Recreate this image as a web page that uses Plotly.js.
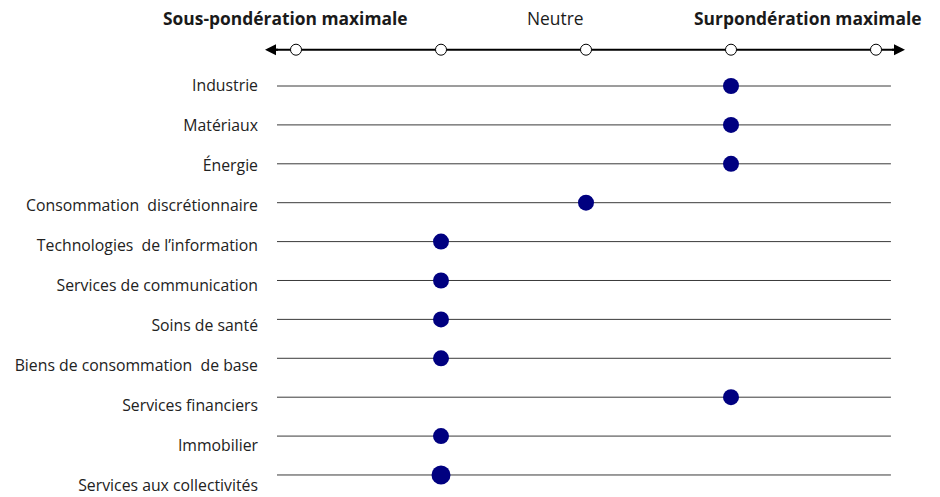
<!DOCTYPE html>
<html>
<head>
<meta charset="utf-8">
<script src="https://cdn.plot.ly/plotly-3.0.1.min.js"></script>
<style>
  html, body { margin: 0; padding: 0; background: #fff; }
  #chart { width: 940px; height: 497px; }
</style>
</head>
<body>
<div id="chart"></div>
<script>
// Sector positioning on a five-step scale (-2 = max underweight, +2 = max overweight)
const sectors = [
  "Industrie",
  "Matériaux",
  "Énergie",
  "Consommation\u00a0 discrétionnaire",
  "Technologies\u00a0 de l’information",
  "Services de communication",
  "Soins de santé",
  "Biens de consommation\u00a0 de base",
  "Services financiers",
  "Immobilier",
  "Services aux collectivités"
];
const positions = [1, 1, 1, 0, -1, -1, -1, -1, 1, -1, -1];

const scaleSteps = [-2, -1, 0, 1, 2];
const scaleLabels = ["Sous-pondération maximale", "Neutre", "Surpondération maximale"];

const rowIndex = sectors.map((_, i) => i);
const FONT = "'Open Sans', sans-serif";

const xRange = [-2.2138, 2.2];

// Top scale: open circles on an arrowed line
const scaleTrace = {
  x: scaleSteps,
  y: scaleSteps.map(() => 0),
  xaxis: "x", yaxis: "y2",
  mode: "markers",
  marker: { symbol: "circle", size: 11, color: "#ffffff", opacity: 1, line: { color: "#000", width: 1 } },
  hoverinfo: "skip",
  showlegend: false
};

// Sector positions
const posTrace = {
  x: positions,
  y: rowIndex,
  xaxis: "x", yaxis: "y",
  mode: "markers",
  marker: {
    symbol: "circle",
    color: "#000080",
    opacity: 1,
    size: rowIndex.map(i => (i === sectors.length - 1 ? 19 : 16)),
    line: { width: 0 }
  },
  cliponaxis: false,
  showlegend: false
};

// Invisible trace carrying the sector labels on the left
const labelTrace = {
  x: rowIndex.map(() => null),
  y: rowIndex,
  xaxis: "x", yaxis: "y3",
  mode: "markers",
  hoverinfo: "skip",
  showlegend: false
};

const rowLines = rowIndex.map(i => ({
  type: "line", xref: "paper", yref: "y",
  x0: 0.01875, x1: 0.978, y0: i, y1: i,
  line: { color: "#3a3a3a", width: 1 },
  layer: "below"
}));

// Short arrows at both ends of the scale line (kept clear of the circles)
const arrowEnds = [xRange[0], xRange[1]].map(xe => ({
  xref: "x", yref: "y2", axref: "x", ayref: "y2",
  x: xe, y: 0, ax: xe - Math.sign(xe) * 0.1, ay: 0,
  text: "", showarrow: true,
  arrowhead: 2, arrowsize: 1.1, arrowwidth: 2, arrowcolor: "#000"
}));

const headerAnnotations = [
  { text: "<b>" + scaleLabels[0] + "</b>", x: 285 },
  { text: scaleLabels[1], x: 555 },
  { text: "<b>" + scaleLabels[2] + "</b>", x: 807 }
].map(a => ({
  xref: "paper", yref: "paper",
  x: (a.x - 265) / 640, y: 1 - 18 / 497,
  xanchor: "center", yanchor: "middle",
  text: a.text, showarrow: false,
  font: { family: FONT, size: 17.4, color: "#1a1a1a" }
}));

const layout = {
  width: 940, height: 497,
  margin: { l: 265, r: 35, t: 0, b: 0 },
  paper_bgcolor: "#fff", plot_bgcolor: "#fff",
  font: { family: FONT, size: 15, color: "#222" },
  xaxis: {
    range: xRange, showgrid: false, zeroline: false,
    showticklabels: false, showline: false, fixedrange: true
  },
  yaxis: {
    range: [10.566, -2.211], showgrid: false, zeroline: false,
    showticklabels: false, showline: false, domain: [0, 1]
  },
  yaxis2: {
    domain: [0.85, 0.95], range: [-1, 1], anchor: "x",
    showgrid: false, zeroline: false, showticklabels: false, showline: false
  },
  yaxis3: {
    overlaying: "y", anchor: "x", side: "left",
    range: [10.3, -2.125],
    tickmode: "array", tickvals: rowIndex, ticktext: sectors,
    ticks: "", ticklabelstandoff: 6,
    showgrid: false, zeroline: false, showline: false,
    tickfont: { family: FONT, size: 15.8, color: "#222" }
  },
  shapes: [
    {
      type: "line", xref: "x", yref: "y2",
      x0: xRange[0] + 0.05, x1: xRange[1] - 0.05, y0: 0, y1: 0,
      line: { color: "#000", width: 2 }, layer: "below"
    },
    ...rowLines
  ],
  annotations: [...arrowEnds, ...headerAnnotations]
};

Plotly.newPlot("chart", [labelTrace, scaleTrace, posTrace], layout, { staticPlot: true, displayModeBar: false });
</script>
</body>
</html>
